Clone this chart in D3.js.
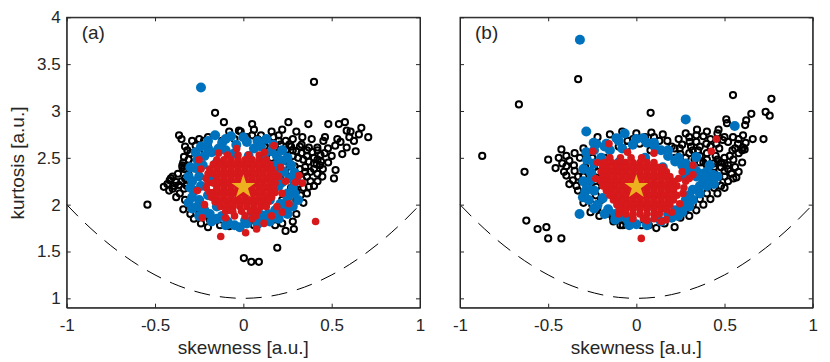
<!DOCTYPE html>
<html>
<head>
<meta charset="utf-8">
<script src="https://cdn.jsdelivr.net/npm/d3@7"></script>
<style>
  body { margin: 0; background: #fff; }
  svg text { font-family: "Liberation Sans", Arial, sans-serif; fill: #262626; }
</style>
</head>
<body>
<svg id="chart" width="830" height="362"></svg>
<script>
// ---- data ----
const xTicks = [-1, -0.5, 0, 0.5, 1];
const yTicks = [1, 1.5, 2, 2.5, 3, 3.5, 4];
const starPoint = [0, 2.19];

// lower bound curve (dashed)
const boundX = [-1,-0.9,-0.8,-0.7,-0.6,-0.5,-0.4,-0.3,-0.2,-0.1,0,0.1,0.2,0.3,0.4,0.5,0.6,0.7,0.8,0.9,1];
const boundY = [2,1.81,1.64,1.49,1.36,1.25,1.16,1.09,1.04,1.01,1,1.01,1.04,1.09,1.16,1.25,1.36,1.49,1.64,1.81,2];

// panel (a)
const blackA = [[0.40,3.31],[-0.16,2.98],[-0.11,2.88],[0.05,2.86],[0.255,2.88],[0.368,2.86],[0.481,2.86],[0.541,2.86],[0.575,2.88],[0.585,2.79],[0.607,2.78],[0.668,2.82],[0.654,2.75],[0.707,2.72],[0.626,2.68],[0.532,2.70],[0.462,2.72],[0.453,2.68],[0.387,2.70],[0.334,2.72],[0.33,2.64],[0.371,2.61],[0.419,2.61],[0.479,2.60],[0.585,2.61],[0.636,2.57],[0.56,2.54],[0.437,2.53],[0.16,2.78],[0.05,2.74],[-0.015,2.78],[-0.025,2.79],
  [-0.364,2.74],[-0.223,2.68],[-0.27,2.63],[-0.317,2.58],[-0.336,2.51],[-0.345,2.40],[-0.41,2.28],[-0.543,2.00],[-0.417,2.26],[-0.364,2.21],[-0.40,2.17],[-0.336,2.17],[-0.345,2.42],[-0.336,2.38],[-0.45,2.19],[-0.19,1.84],[-0.132,1.78],[0.003,1.43],[0.045,1.39],[0.088,1.39],[0.192,1.54],[0.239,1.72],[0.286,1.74],[0.324,2.10],[0.371,2.19],[0.419,2.33],[0.447,2.30],[0.522,2.37],[0.513,2.28],[0.434,2.42],[0.415,2.43],
  [0.12,2.62],[0.15,2.66],[0.18,2.60],[0.21,2.64],[0.24,2.58],[0.27,2.62],[0.30,2.57],[0.33,2.55],[0.36,2.52],[0.39,2.56],[0.42,2.48],[0.40,2.44],[0.37,2.46],[0.34,2.48],[0.31,2.50],[0.28,2.52],[0.25,2.49],[0.22,2.53],[0.19,2.55],[0.16,2.50],[0.20,2.45],[0.23,2.42],[0.26,2.44],[0.29,2.41],[0.32,2.38],[0.35,2.40],[0.38,2.35],[0.36,2.30],[0.33,2.27],[0.30,2.32],[0.27,2.35],[0.24,2.30],[0.21,2.36],[0.28,2.26],[0.31,2.22],[0.34,2.18],[0.30,2.14],[0.27,2.18],[0.25,2.10],[0.22,2.05],[0.26,1.98],[0.20,1.96],[0.15,1.86],[0.10,1.82],[0.06,1.78],[-0.02,1.76],[-0.08,1.77],[-0.18,1.82],[-0.25,1.90],[-0.30,1.98],[-0.33,2.05],[-0.36,2.12],[-0.38,2.24],[-0.31,2.32],[-0.28,2.45],[-0.25,2.55],[-0.20,2.62],[-0.12,2.68],[-0.05,2.70],[0.02,2.72],[0.08,2.70],[0.10,2.66],[0.24,2.68],[0.28,2.70],[0.45,2.38],[0.48,2.45],[0.50,2.52],[0.52,2.63],[0.55,2.67],[0.60,2.72],[0.42,2.58],[0.46,2.55],
  [-0.43,2.22],[-0.39,2.20],[-0.35,2.25],[-0.32,2.20],[-0.40,2.30],[-0.37,2.33],[-0.33,2.28],[-0.34,2.45],[-0.31,2.48],[-0.30,2.55],[-0.33,2.62],[-0.29,2.68],[-0.25,2.70],[-0.30,2.40],[-0.42,2.15],[-0.38,2.08],[-0.34,1.95],[-0.30,1.90],[-0.28,1.85],[-0.24,1.80],[-0.20,1.76],[-0.35,2.70],
  [-0.20,2.72],[-0.08,2.78],[0.06,2.80],[0.10,2.74],[0.20,2.74],[0.22,2.80],[0.30,2.78],
  [0.30,2.05],[0.34,2.02],[0.36,2.12],[0.40,2.20],[0.42,2.25],[0.38,2.25],[0.35,2.35],[0.40,2.38],[0.44,2.46],[0.40,2.50],[0.36,2.58],[0.32,2.62],[0.28,2.58],[0.26,2.64],[0.20,2.68],[0.17,2.72],[0.30,1.90],[0.28,1.82],[0.22,1.80],[0.18,1.78]];
const blueA = [[-0.24,3.25],[-0.16,2.74],[-0.07,2.73],[0.02,2.67],[0.13,2.70],[-0.12,2.66],[-0.04,2.64],[0.06,2.60],[0.10,2.62],[-0.20,2.60],[0.16,2.57],
  [0.19,2.52],[0.22,2.47],[0.18,2.42],[0.23,2.35],[0.18,2.33],[0.26,2.28],[0.22,2.24],[0.28,2.18],[0.25,2.12],[0.29,2.12],[0.25,2.07],[0.21,2.01],[0.24,1.97],[0.18,1.94],[0.14,1.90],[0.10,1.89],[0.11,1.84],[0.06,1.86],
  [0.02,1.80],[0.01,1.83],[-0.05,1.78],[-0.09,1.82],[-0.15,1.85],[-0.12,1.88],[-0.19,1.90],[-0.22,1.94],
  [-0.26,1.98],[-0.29,2.08],[-0.25,2.05],[-0.28,2.15],[-0.24,2.20],[-0.29,2.25],[-0.25,2.30],[-0.27,2.39],[-0.23,2.42],[-0.26,2.48],[-0.22,2.52],[-0.18,2.56],[-0.14,2.60],[-0.10,2.58],
  [-0.05,2.55],[0.03,2.52],[0.12,2.50],[-0.15,2.45],[0.15,2.40],[-0.18,2.30],[0.20,2.20],[-0.20,2.10],[0.15,2.05],[-0.15,1.98],[0.05,1.92],[-0.08,1.95],
  [-0.30,2.18],[-0.31,2.30],[-0.30,2.40],[-0.27,2.56],[-0.24,2.62],[-0.20,2.68],[-0.10,2.70],[0.00,2.72],[0.08,2.68],[0.17,2.64],[0.22,2.58],[0.25,2.50],[0.27,2.42],[0.29,2.34],[0.30,2.25],[0.31,2.05],[0.28,1.98],[0.25,1.90],[0.20,1.85],[0.15,1.82],[0.08,1.79],[-0.02,1.76],[-0.10,1.78],[-0.18,1.82],[-0.25,1.88],[-0.29,1.96],[-0.31,2.02]];
const redA = [[-0.038,2.60],[0.173,2.63],[-0.251,2.48],[-0.232,1.86],[-0.128,1.66],[0.013,1.70],[0.075,1.74],[0.409,1.82],[0.22,1.92],[0.258,2.01],[0.296,2.24],[0.334,2.23],[0.315,2.31],[0.16,1.88],[0.117,1.80],[0.211,2.40],[0.239,2.25],
  [-0.24,2.38],[-0.26,2.15],[0.20,2.30],[0.22,2.12],[0.12,2.56],[-0.14,2.55],[0.05,1.85],[-0.10,1.86],[-0.22,2.00],[0.19,1.98]];
// dense red core of (a), one row per kurtosis level: [y, x, x, ...]
const redCoreA = [
  [2.53, -0.09,-0.03,0.03,0.09],
  [2.48, -0.15,-0.11,-0.07,-0.03,0.01,0.05,0.09,0.13],
  [2.43, -0.17,-0.13,-0.09,-0.05,-0.01,0.03,0.07,0.11,0.15],
  [2.38, -0.19,-0.15,-0.11,-0.07,-0.03,0.01,0.05,0.09,0.13,0.16],
  [2.33, -0.20,-0.17,-0.13,-0.09,-0.05,-0.01,0.03,0.07,0.11,0.15,0.18],
  [2.28, -0.21,-0.15,-0.11,-0.07,-0.03,0.01,0.05,0.09,0.13,0.17],
  [2.23, -0.20,-0.17,-0.13,-0.09,-0.05,-0.01,0.03,0.07,0.11,0.15,0.18],
  [2.18, -0.21,-0.15,-0.11,-0.07,-0.03,0.01,0.05,0.09,0.13,0.17],
  [2.13, -0.19,-0.17,-0.13,-0.09,-0.05,-0.01,0.03,0.07,0.11,0.15,0.18],
  [2.08, -0.18,-0.15,-0.11,-0.07,-0.03,0.01,0.05,0.09,0.13,0.16],
  [2.03, -0.16,-0.13,-0.09,-0.05,-0.01,0.03,0.07,0.11,0.14],
  [1.98, -0.13,-0.10,-0.06,-0.02,0.02,0.06,0.10,0.13],
  [1.93, -0.10,-0.06,-0.01,0.04,0.08],
  [1.88, -0.05,0.01,0.07]
];

// panel (b)
const blackB = [[-0.33,3.34],[-0.666,3.07],[-0.874,2.52],[-0.634,2.35],[-0.425,2.59],[-0.50,2.48],[-0.397,2.52],[-0.458,2.39],[-0.397,2.41],[-0.354,2.42],[-0.397,2.31],[-0.331,2.15],[-0.289,2.13],[-0.36,2.26],[-0.30,2.30],[-0.624,1.83],[-0.56,1.74],[-0.51,1.76],[-0.50,1.64],[-0.425,1.64],[-0.221,1.96],[-0.133,1.86],[-0.076,1.78],[-0.227,2.19],
  [0.548,3.17],[0.766,3.13],[0.081,2.98],[0.733,2.99],[0.756,2.95],[0.652,2.97],[0.623,2.90],[0.617,2.85],[0.51,2.91],[0.514,2.87],[0.466,2.80],[0.344,2.80],[0.721,2.70],[0.605,2.74],[0.548,2.72],[0.52,2.67],[0.576,2.65],[0.614,2.59],[0.605,2.61],[0.545,2.58],[0.49,2.69],[0.454,2.65],[0.397,2.65],[0.34,2.67],[0.302,2.67],[0.246,2.60],[0.217,2.60],[0.176,2.68],[0.085,2.77],[0.019,2.65],[-0.019,2.70],[0.567,2.29],[0.071,1.78],[0.113,1.75],[0.217,1.76],
  [0.30,2.55],[0.35,2.58],[0.40,2.55],[0.45,2.52],[0.50,2.50],[0.55,2.48],[0.52,2.42],[0.48,2.45],[0.44,2.40],[0.50,2.36],[0.54,2.33],[0.47,2.30],[0.52,2.25],[0.48,2.20],[0.44,2.18],[0.40,2.12],[0.36,2.06],[0.32,2.00],[0.28,1.95],[0.38,2.45],[0.33,2.48],[0.28,2.50],[0.25,2.54],[0.22,2.50],[0.42,2.62],[0.47,2.60],[0.36,2.62],[0.31,2.62],[0.58,2.55],[0.42,2.70],[0.38,2.73],[0.30,2.72],[0.24,2.70],[0.13,2.68],[0.10,2.62],[0.05,2.72],[-0.05,2.68],[-0.10,2.62],[-0.18,2.50],[-0.24,2.40],[-0.22,2.28],[-0.26,2.22],[-0.20,2.05],[-0.25,2.00],[-0.30,2.02],[-0.17,1.90],[-0.05,1.80],[0.03,1.78],[0.16,1.80],[0.25,1.86],[0.56,2.40],[0.60,2.45],[0.46,2.25],[0.42,2.30],
  [-0.44,2.50],[-0.42,2.44],[-0.38,2.47],[-0.35,2.36],[-0.33,2.30],[-0.38,2.22],[-0.34,2.20],[-0.31,2.25],[-0.29,2.40],[-0.32,2.50],[-0.28,2.48],[-0.25,2.50],[-0.22,2.35],[-0.20,2.25],[-0.23,2.10],[-0.27,2.05],[-0.26,1.92],[-0.21,1.88],[-0.13,1.82],[-0.09,1.78],[-0.35,2.55],[-0.30,2.60],[-0.41,2.35],
  [0.20,2.62],[0.26,2.64],[0.32,2.58],[0.36,2.52],[0.40,2.48],[0.44,2.44],[0.46,2.48],[0.50,2.44],[0.53,2.52],[0.56,2.60],[0.60,2.58],[0.62,2.66],[0.66,2.70],[0.58,2.70],[0.50,2.72],[0.46,2.76],[0.40,2.78],[0.34,2.74],[0.28,2.76],[0.50,2.30],[0.55,2.28],[0.50,2.18],[0.46,2.12],[0.42,2.06],[0.38,2.00],[0.34,1.94],[0.30,1.88],[0.52,2.38],[0.58,2.35],[0.44,2.34],[0.48,2.40],[0.40,2.42],[0.36,2.45],
  [-0.22,2.72],[-0.15,2.75],[-0.08,2.78],[0.00,2.76],[0.10,2.72],[0.15,2.75],[-0.05,2.62],[0.08,2.58]];
const blueB = [[-0.32,3.76],[-0.284,2.78],[-0.242,2.66],[-0.066,2.76],[-0.113,2.71],[0.28,2.91],[0.558,2.84],[0.34,2.51],[0.416,2.42],[0.321,2.41],[0.038,2.71],[0.104,2.62],[-0.17,2.65],[0.236,1.88],[0.0,1.79],[0.434,2.32],[0.378,2.23],[-0.303,2.08],[-0.322,1.90],[-0.227,2.65],[-0.284,2.56],[-0.255,2.33],[-0.19,2.07],[-0.095,1.87],
  [-0.02,2.64],[0.06,2.66],[0.14,2.58],[0.18,2.52],[-0.15,2.58],[-0.20,2.50],[-0.08,2.60],
  [0.22,2.46],[0.26,2.42],[0.30,2.36],[0.34,2.30],[0.38,2.28],[0.36,2.20],[0.32,2.16],[0.30,2.10],[0.28,2.05],[0.26,1.98],[0.22,1.94],[0.18,1.90],[0.12,1.86],[0.06,1.82],[0.28,2.30],[0.32,2.40],[0.40,2.35],
  [-0.24,2.44],[-0.26,2.26],[-0.24,2.15],[-0.22,2.00],[-0.16,1.95],[-0.12,1.90],[-0.05,1.84],[-0.26,2.35],[-0.28,2.20],
  [-0.10,2.45],[0.05,2.50],[0.15,2.40],[-0.15,2.20],[0.20,2.20],[0.10,2.00],[-0.10,2.00],
  [-0.30,2.25],[-0.30,2.38],[-0.28,2.48],[-0.24,2.58],[-0.18,2.62],[-0.10,2.68],[0.0,2.70],[0.10,2.66],[0.18,2.58],[0.24,2.50],[0.28,2.44],[0.34,2.36],[0.38,2.33],[0.42,2.28],[0.40,2.20],[0.36,2.12],[0.32,2.05],[0.30,1.98],[0.26,1.92],[0.20,1.86],[0.14,1.82],[0.06,1.78],[-0.04,1.78],[-0.12,1.84],[-0.18,1.90],[-0.24,1.96],[-0.27,2.05],[-0.29,2.14],[0.46,2.30],[0.44,2.22]];
const redB = [[0.454,2.70],[0.425,2.57],[0.321,2.32],[0.321,2.42],[0.028,1.64],[0.17,1.84],[0.142,1.82],[0.246,2.01],[0.264,2.12],[-0.155,2.65],[-0.246,2.57],[-0.19,2.40],[-0.095,1.94],[-0.02,1.86],[0.28,2.25],[0.26,2.35],
  [-0.23,2.28],[-0.22,2.45],[0.24,2.28],[0.27,2.18],[0.20,1.92],[0.06,1.83],[-0.10,1.90],[0.10,2.55],[-0.05,2.56],[0.30,2.28]];
const redCoreB = [
  [2.50, -0.15,-0.09,-0.03,0.03],
  [2.45, -0.18,-0.14,-0.10,-0.06,-0.02,0.02,0.06,0.10],
  [2.40, -0.19,-0.16,-0.12,-0.08,-0.04,0.00,0.04,0.08,0.12,0.15],
  [2.35, -0.20,-0.18,-0.14,-0.10,-0.06,-0.02,0.02,0.06,0.10,0.14,0.17],
  [2.30, -0.19,-0.16,-0.12,-0.08,-0.04,0.00,0.04,0.08,0.12,0.16,0.19],
  [2.25, -0.20,-0.18,-0.14,-0.10,-0.06,-0.02,0.02,0.06,0.10,0.14,0.18,0.21],
  [2.20, -0.19,-0.16,-0.12,-0.08,-0.04,0.00,0.04,0.08,0.12,0.16,0.20,0.23],
  [2.15, -0.17,-0.14,-0.10,-0.06,-0.02,0.02,0.06,0.10,0.14,0.18,0.21],
  [2.10, -0.15,-0.12,-0.08,-0.04,0.00,0.04,0.08,0.12,0.16,0.20,0.23],
  [2.05, -0.13,-0.10,-0.06,-0.02,0.02,0.06,0.10,0.14,0.18,0.21],
  [2.00, -0.11,-0.08,-0.04,0.00,0.04,0.08,0.12,0.16,0.19],
  [1.95, -0.09,-0.06,-0.02,0.02,0.06,0.10,0.14,0.17],
  [1.90, -0.06,-0.02,0.02,0.06,0.10,0.13],
  [1.85, -0.02,0.04,0.10]
];

// ---- drawing ----
const svg = d3.select("#chart");
const plotTop = 17.3, plotBottom = 307.7;
const axisColor = "#262626";

const panels = [
  {label: "(a)", left: 66.7, right: 420, black: blackA, blue: blueA, red: redA, core: redCoreA, yLabels: true},
  {label: "(b)", left: 460, right: 812.7, black: blackB, blue: blueB, red: redB, core: redCoreB, yLabels: false}
];

panels.forEach(p => {
  let x = d3.scaleLinear().domain([-1, 1]).range([p.left, p.right]);
  let y = d3.scaleLinear().domain([0.9, 4]).range([plotBottom, plotTop]);
  let g = svg.append("g");

  // dashed bound
  let pts = boundX.map((v, i) => [v, boundY[i]]);
  g.append("path")
    .attr("d", d3.line().x(d => x(d[0])).y(d => y(d[1])).curve(d3.curveMonotoneX)(pts))
    .attr("fill", "none").attr("stroke", "#000").attr("stroke-width", 1)
    .attr("stroke-dasharray", "16,10");

  // black open circles
  g.append("g").selectAll("circle").data(p.black).join("circle")
    .attr("cx", d => x(d[0])).attr("cy", d => y(d[1])).attr("r", 3.1)
    .attr("fill", "none").attr("stroke", "#000").attr("stroke-width", 2);

  // blue filled
  g.append("g").selectAll("circle").data(p.blue).join("circle")
    .attr("cx", d => x(d[0])).attr("cy", d => y(d[1])).attr("r", 5)
    .attr("fill", "#0072BD");

  // red filled
  let reds = p.red.concat(p.core.flatMap(r => r.slice(1).map(v => [v, r[0]])));
  g.append("g").selectAll("circle").data(reds).join("circle")
    .attr("cx", d => x(d[0])).attr("cy", d => y(d[1])).attr("r", 3.8)
    .attr("fill", "#D7191C");

  // star
  g.append("path")
    .attr("d", d3.symbol(d3.symbolStar, 175)())
    .attr("transform", `translate(${x(starPoint[0])},${y(starPoint[1])})`)
    .attr("fill", "#EDB120");

  // axes (ticks inward, box on)
  let fmt = d => String(d);
  svg.append("g").attr("transform", `translate(0,${plotBottom})`)
    .call(d3.axisBottom(x).tickValues(xTicks).tickFormat(fmt).tickSizeInner(-4).tickSizeOuter(0).tickPadding(11));
  svg.append("g").attr("transform", `translate(0,${plotTop})`)
    .call(d3.axisTop(x).tickValues(xTicks).tickFormat("").tickSizeInner(-4).tickSizeOuter(0));
  svg.append("g").attr("transform", `translate(${p.left},0)`)
    .call(d3.axisLeft(y).tickValues(yTicks).tickFormat(p.yLabels ? fmt : "").tickSizeInner(-4).tickSizeOuter(0).tickPadding(6));
  svg.append("g").attr("transform", `translate(${p.right},0)`)
    .call(d3.axisRight(y).tickValues(yTicks).tickFormat("").tickSizeInner(-4).tickSizeOuter(0));
  svg.selectAll(".domain").attr("stroke", axisColor).attr("stroke-width", 1);
  svg.selectAll(".tick line").attr("stroke", axisColor);
  svg.selectAll(".tick text").attr("font-size", 17).attr("font-family", "Liberation Sans, Arial, sans-serif").attr("fill", axisColor);
  svg.append("rect").attr("x", p.left).attr("y", plotTop).attr("width", p.right - p.left).attr("height", plotBottom - plotTop)
    .attr("fill", "none").attr("stroke", axisColor).attr("stroke-width", 1);

  svg.append("text").attr("x", (p.left + p.right) / 2).attr("y", 354)
    .attr("text-anchor", "middle").attr("font-size", 19).text("skewness [a.u.]");
  svg.append("text").attr("x", p.left + 15).attr("y", 39)
    .attr("font-size", 19).text(p.label);
});

svg.append("text").attr("transform", "translate(24,163) rotate(-90)")
  .attr("text-anchor", "middle").attr("font-size", 19).text("kurtosis [a.u.]");
</script>
</body>
</html>
